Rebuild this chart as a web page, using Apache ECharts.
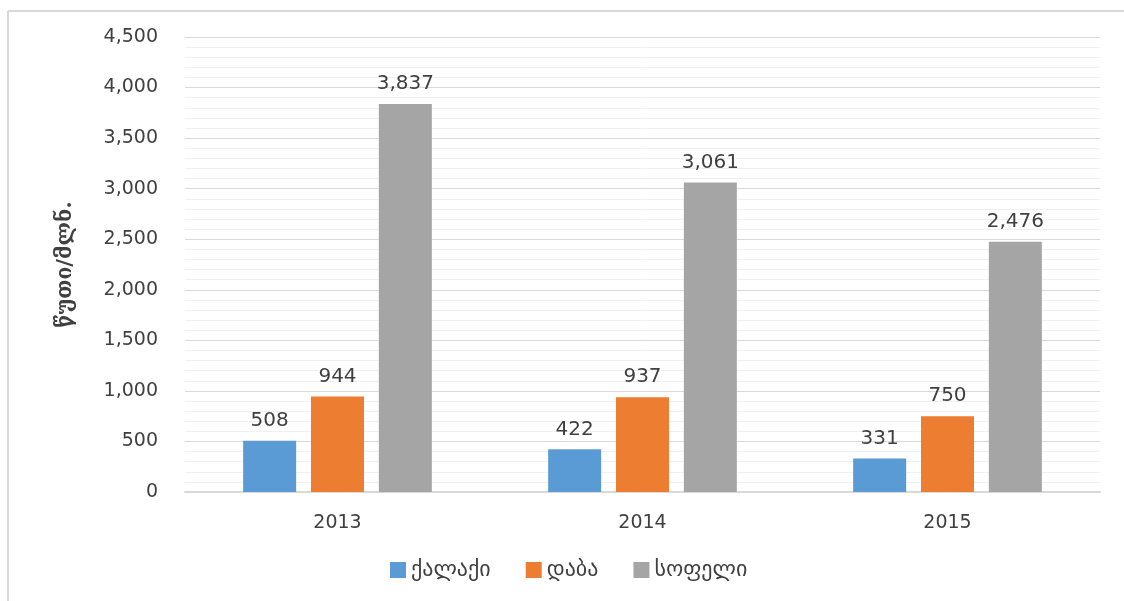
<!DOCTYPE html>
<html>
<head>
<meta charset="utf-8">
<script src="https://cdn.jsdelivr.net/npm/echarts@6/dist/echarts.min.js"></script>
<style>
  html, body { margin: 0; padding: 0; background: #ffffff; }
  #chart { width: 1124px; height: 601px; }
</style>
</head>
<body>
<div id="chart"></div>
<script>
// Years on the category axis
const years = ['2013', '2014', '2015'];
// Series names (settlement type)
const seriesNames = ['ქალაქი', 'დაბა', 'სოფელი'];
// Values per series, one per year
const cityValues = [508, 422, 331];
const townValues = [944, 937, 750];
const villageValues = [3837, 3061, 2476];
const colors = ['#5B9BD5', '#ED7D31', '#A5A5A5'];
const yTitle = 'წუთი/მლნ.';

const fontFamily = '"DejaVu Sans", sans-serif';
const textColor = '#404040';

const fmt = v => v.toLocaleString('en-US');

function barSeries(name, values, color) {
  return {
    name: name,
    type: 'bar',
    data: values,
    barWidth: 53,
    barGap: '28%',
    itemStyle: { color: color },
    label: {
      show: true,
      position: 'top',
      distance: 10,
      color: textColor,
      fontSize: 20,
      fontFamily: fontFamily,
      formatter: p => fmt(p.value)
    }
  };
}

const chart = echarts.init(document.getElementById('chart'), null, { renderer: 'canvas' });
chart.setOption({
  animation: false,
  backgroundColor: '#ffffff',
  color: colors,
  grid: { left: 185, right: 24, top: 37, bottom: 109 },
  graphic: [
    { type: 'line', shape: { x1: 8, y1: 11, x2: 1124, y2: 11 }, style: { stroke: '#d9d9d9', lineWidth: 2 } },
    { type: 'line', shape: { x1: 8, y1: 11, x2: 8, y2: 601 }, style: { stroke: '#d9d9d9', lineWidth: 2 } }
  ],
  legend: {
    data: seriesNames,
    left: 385,
    top: 554,
    itemWidth: 16,
    itemHeight: 16,
    itemGap: 35,
    icon: 'rect',
    textStyle: { color: textColor, fontSize: 22, fontFamily: fontFamily }
  },
  xAxis: {
    type: 'category',
    data: years,
    axisLine: { show: true, lineStyle: { color: '#d9d9d9', width: 2 } },
    axisTick: { show: false },
    axisLabel: { color: textColor, fontSize: 19, fontFamily: fontFamily, margin: 22 }
  },
  yAxis: {
    type: 'value',
    min: 0,
    max: 4500,
    interval: 500,
    name: yTitle,
    nameLocation: 'middle',
    nameGap: 109,
    nameRotate: 90,
    nameTextStyle: { color: textColor, fontSize: 21, fontWeight: 'bold', fontFamily: '"DejaVu Serif", serif' },
    axisLine: { show: false },
    axisTick: { show: false },
    axisLabel: { color: textColor, fontSize: 19, fontFamily: fontFamily, margin: 27, formatter: v => fmt(v) },
    splitLine: { show: true, lineStyle: { color: '#d9d9d9', width: 1 } },
    minorTick: { show: false, splitNumber: 5 },
    minorSplitLine: { show: true, lineStyle: { color: '#f0f0f0', width: 1 } }
  },
  series: [
    barSeries(seriesNames[0], cityValues, colors[0]),
    barSeries(seriesNames[1], townValues, colors[1]),
    barSeries(seriesNames[2], villageValues, colors[2])
  ]
});
</script>
</body>
</html>
